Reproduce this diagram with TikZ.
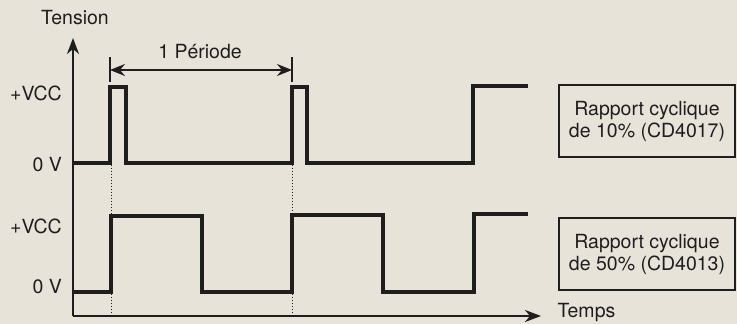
\documentclass[tikz,border=0pt]{standalone}
\usepackage{fontspec}
\setmainfont{TeX Gyre Heros}
\usetikzlibrary{arrows.meta}
\definecolor{paper}{RGB}{232,227,217}
\definecolor{ink}{RGB}{30,30,30}

\tikzset{
    axis/.style={ink, line width=2pt, -{Stealth[length=16pt,width=12pt,inset=5pt]}},
    signal/.style={ink, line width=3.4pt, line join=miter},
    guide/.style={ink, line width=1pt, dotted},
    level/.style={anchor=east, inner sep=0pt},
    legend/.style={draw=ink, line width=1.5pt, minimum width=176pt, minimum height=72pt,
                   align=center, inner sep=0pt}
}

\begin{document}
\begin{tikzpicture}[x=1pt, y=1pt, font=\fontsize{19.5}{22}\selectfont, text=ink]
    % Paper background and frame of the picture
    \fill[paper] (0,0) rectangle (737,324);
    \useasboundingbox (0,0) rectangle (737,324);

    % Axes
    \coordinate (O) at (73,8);
    \coordinate (ytip) at (73,286);
    \coordinate (xtip) at (541,8);
    \draw[axis] (O) -- (ytip);
    \draw[axis] (O) -- (xtip);
    \node (tension) at (75,306) {Tension};
    \node[anchor=west] (temps) at (554,11) {Temps};

    % Level labels
    \node[level] (vcca)  at (62,231) {+VCC};
    \node[level] (zeroa) at (62,159) {0 V};
    \node[level] (vccb)  at (62,98)  {+VCC};
    \node[level] (zerob) at (62,37)  {0 V};

    % Signal at 10% (CD4017)
    \draw[signal] (73,161) -- (110,161) -- (110,237) -- (126,237) -- (126,161)
        -- (292,161) -- (292,237) -- (307,237) -- (307,161)
        -- (473,161) -- (473,238) -- (528,238);

    % Signal at 50% (CD4013)
    \draw[signal] (73,32) -- (111,32) -- (111,108) -- (202,108) -- (202,32)
        -- (292,32) -- (292,109) -- (383,109) -- (383,32)
        -- (474,32) -- (474,110) -- (528,110);

    % Dotted guides down to the time axis
    \draw[guide] (111,159) -- (111,9);
    \draw[guide] (292,159) -- (292,9);

    % One period
    \coordinate (pa) at (110,254);
    \coordinate (pb) at (292,254);
    \draw[ink, line width=1.2pt] (110,242) -- (110,267);
    \draw[ink, line width=1.2pt] (292,242) -- (292,267);
    \draw[ink, line width=1.6pt, {Stealth[length=15pt,width=12pt,inset=5pt]}-{Stealth[length=15pt,width=12pt,inset=5pt]}] (pa) -- (pb);
    \node (periode) at (200,272) {1 Période};

    % Legend boxes
    \node[legend] (boxa) at (647,203) {Rapport cyclique\\de 10\% (CD4017)};
    \node[legend] (boxb) at (647,70)  {Rapport cyclique\\de 50\% (CD4013)};
\end{tikzpicture}
\end{document}
